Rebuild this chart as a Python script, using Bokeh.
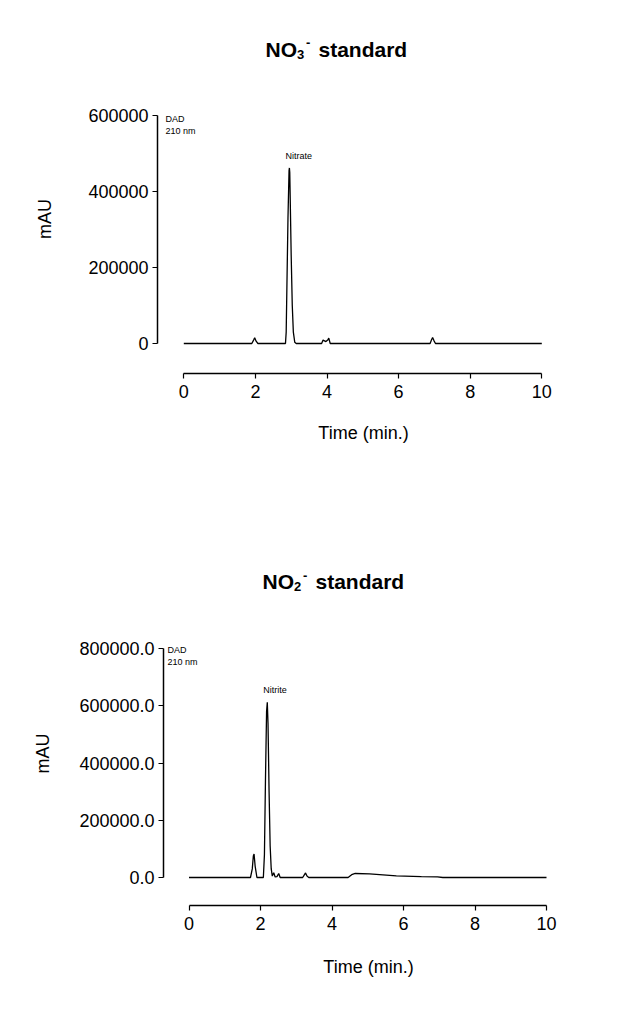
from bokeh.plotting import figure
from bokeh.models import Range1d, FixedTicker, PrintfTickFormatter, Label
from bokeh.embed import file_html
from bokeh.resources import INLINE

# ---------------- data ----------------
x_ticks = [0, 2, 4, 6, 8, 10]

no3_time = [0.0, 1.90, 1.95, 1.98, 2.02, 2.07,
            2.84, 2.86, 2.88, 2.91, 2.94, 2.95, 2.96, 2.98, 3.00, 3.03, 3.06, 3.10, 3.14,
            3.85, 3.89, 3.93, 3.97, 4.02, 4.05, 4.09,
            6.88, 6.92, 6.95, 6.99, 7.03, 10.0]
no3_signal = [0, 0, 9000, 15000, 6000, 0,
              0, 30000, 150000, 330000, 455000, 462000, 450000, 340000, 230000, 100000, 30000, 3000, 0,
              0, 9000, 7000, 5000, 9000, 14000, 0,
              0, 10000, 16000, 7000, 0, 0]
no3_y_ticks = [0, 200000, 400000, 600000]

no2_time = [0.0, 1.72, 1.77, 1.80, 1.82, 1.85, 1.90,
            2.08, 2.11, 2.14, 2.17, 2.19, 2.21, 2.24, 2.27, 2.30, 2.33, 2.37, 2.41, 2.46, 2.51, 2.55,
            3.18, 3.23, 3.26, 3.30, 3.35,
            4.45, 4.55, 4.65, 5.05, 5.80, 6.50, 6.95, 7.10, 10.0]
no2_signal = [0, 0, 30000, 75000, 82000, 40000, 0,
              0, 80000, 350000, 580000, 612000, 540000, 300000, 110000, 30000, 5000, 17000, 2000, 3000, 14000, 0,
              0, 10000, 16000, 5000, 0,
              0, 10000, 14000, 13000, 6000, 3000, 2000, 0, 0]
no2_y_ticks = [0, 200000, 400000, 600000, 800000]

no3_peak_name = "Nitrate"
no2_peak_name = "Nitrite"
detector_text = ["DAD", "210 nm"]
x_label = "Time (min.)"
y_label = "mAU"

FONT = "Liberation Sans"
W = 617


def title_fig(H, sub, left, base):
    t = figure(width=W, height=H, output_backend="svg", toolbar_location=None,
               x_range=Range1d(0, W), y_range=Range1d(H, 0),
               x_axis_type=None, y_axis_type=None, min_border=0, title=None)
    t.outline_line_color = None
    t.background_fill_color = "white"
    t.border_fill_color = "white"
    pieces = [("NO", 0, 0, "21px"), (sub, 31.5, 5, "13px"), ("-", 40.5, -6.5, "13px"),
              ("standard", 53, 0, "21px")]
    for txt, dx, dy, fs in pieces:
        t.add_layout(Label(x=left + dx, y=base + dy, text=txt,
                           text_font=FONT, text_font_size=fs, text_font_style="bold",
                           text_color="black", text_align="left",
                           text_baseline="alphabetic"))
    return t


def panel(time, signal, yticks, yfmt, H, L, T, R, B, x0, xs, y0, ys,
          peak_name, dad_left, dad_top, xlab_standoff, ylab_standoff):
    def X(px):
        return (px - x0) / xs

    def Y(py):
        return (y0 - py) / ys

    p = figure(width=W, height=H, output_backend="svg", toolbar_location=None,
               x_range=Range1d(X(L), X(R)), y_range=Range1d(Y(B), Y(T)),
               min_border_left=L, min_border_right=W - R,
               min_border_top=T, min_border_bottom=H - B, title=None)
    p.outline_line_color = None
    p.grid.visible = False
    p.background_fill_color = "white"
    p.border_fill_color = "white"

    p.line(time, signal, line_color="black", line_width=1.3)

    for ax in (p.xaxis[0], p.yaxis[0]):
        ax.axis_line_width = 1.5
        ax.axis_line_color = "black"
        ax.major_tick_line_width = 1.2
        ax.major_tick_line_color = "black"
        ax.major_tick_out = 5
        ax.major_tick_in = 0
        ax.minor_tick_out = 0
        ax.minor_tick_in = 0
        ax.major_label_text_font = FONT
        ax.major_label_text_font_size = "18px"
        ax.major_label_text_color = "black"
        ax.axis_label_text_font = FONT
        ax.axis_label_text_font_size = "18px"
        ax.axis_label_text_font_style = "normal"
        ax.axis_label_text_color = "black"

    xa = p.xaxis[0]
    xa.ticker = FixedTicker(ticks=x_ticks)
    xa.bounds = (x_ticks[0], x_ticks[-1])
    xa.axis_label = x_label
    xa.major_label_standoff = 6
    xa.axis_label_standoff = xlab_standoff

    ya = p.yaxis[0]
    ya.ticker = FixedTicker(ticks=yticks)
    ya.bounds = (yticks[0], yticks[-1])
    ya.formatter = PrintfTickFormatter(format=yfmt)
    ya.axis_label = y_label
    ya.major_label_standoff = 4
    ya.axis_label_standoff = ylab_standoff

    # peak label
    i = max(range(len(signal)), key=lambda k: signal[k])
    apx = x0 + time[i] * xs
    apy = y0 - signal[i] * ys
    p.add_layout(Label(x=X(apx - 4), y=Y(apy - 12), text=peak_name,
                       text_font=FONT, text_font_size="9px", text_color="black",
                       text_align="left", text_baseline="alphabetic"))
    # detector label
    for j, t in enumerate(detector_text):
        p.add_layout(Label(x=X(dad_left), y=Y(dad_top + 12 * j), text=t,
                           text_font=FONT, text_font_size="9px", text_color="black",
                           text_align="left", text_baseline="top"))
    return p


# page rows: title 1 (0-64), chart 1 (64-505), title 2 (505-601), chart 2 (601-1009)
title_top = title_fig(64, "3", left=265, base=48.5)
top = panel(no3_time, no3_signal, no3_y_ticks, "%d", 441,
            L=157, T=0, R=569, B=309,
            x0=183.3, xs=35.8, y0=279.0, ys=228.0 / 600000,
            peak_name=no3_peak_name, dad_left=165, dad_top=49,
            xlab_standoff=22, ylab_standoff=30)

title_bottom = title_fig(96, "2", left=262, base=76)
bottom = panel(no2_time, no2_signal, no2_y_ticks, "%.1f", 408,
               L=163, T=0, R=573, B=304,
               x0=188.5, xs=35.75, y0=276.0, ys=229.0 / 800000,
               peak_name=no2_peak_name, dad_left=167, dad_top=43,
               xlab_standoff=24, ylab_standoff=23)

open("out.html", "w").write(file_html([title_top, top, title_bottom, bottom], INLINE))
